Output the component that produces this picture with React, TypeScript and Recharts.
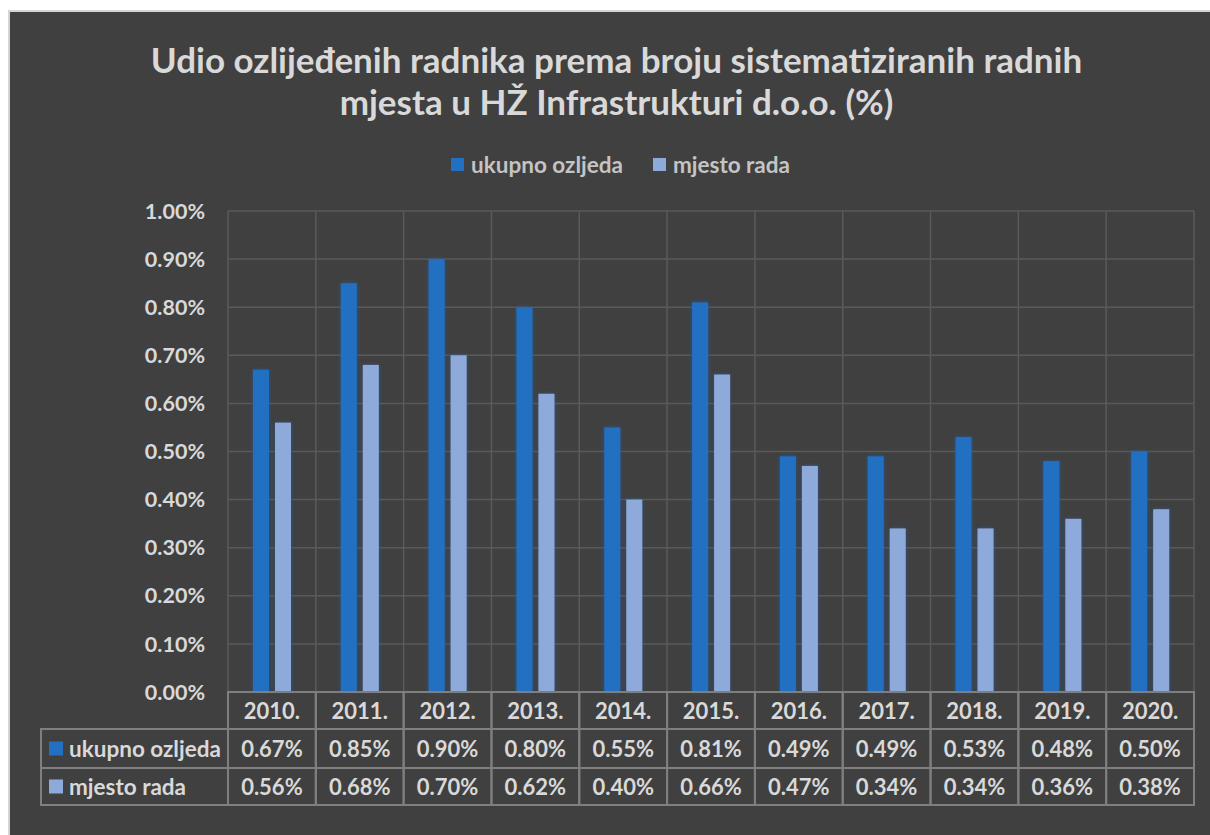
import React from 'react';
import { BarChart, Bar, XAxis, YAxis, CartesianGrid, Legend } from 'recharts';

const years = ['2010.', '2011.', '2012.', '2013.', '2014.', '2015.', '2016.', '2017.', '2018.', '2019.', '2020.'];
const ukupnoOzljeda = [0.67, 0.85, 0.9, 0.8, 0.55, 0.81, 0.49, 0.49, 0.53, 0.48, 0.5];
const mjestoRada = [0.56, 0.68, 0.7, 0.62, 0.4, 0.66, 0.47, 0.34, 0.34, 0.36, 0.38];
const yTicks = [0, 0.1, 0.2, 0.3, 0.4, 0.5, 0.6, 0.7, 0.8, 0.9, 1.0];

const seriesNames = ['ukupno ozljeda', 'mjesto rada'];
const seriesColors = ['#2170C1', '#8EAADB'];

const W = 1202;
const H = 825;
const FONT = 'Lato, "Noto Sans", sans-serif';
const TEXT = '#d9d9d9';
const TABLE_LINE = '#7f7f7f';

// row heights of the data table under the plot
const ROWS = [37, 39, 37];
const LABEL_COL = 187;

const data = years.map((year, i) => ({
  year,
  ukupno: ukupnoOzljeda[i],
  mjesto: mjestoRada[i],
}));

const fmt = (v: number) => v.toFixed(2) + '%';

const TableTick = (props: any) => {
  const { x, y, payload, band } = props;
  const i = payload.index;
  const left = x - band / 2;
  const r0 = y;
  const r1 = r0 + ROWS[0];
  const r2 = r1 + ROWS[1];
  const r3 = r2 + ROWS[2];
  const rowVals = [ukupnoOzljeda, mjestoRada];
  const textStyle = { fontFamily: FONT, fontWeight: 700, fontSize: 22, fill: TEXT };
  const labelStyle = { ...textStyle, fontSize: 22.5 };

  return (
    <g>
      <rect x={left} y={r0} width={band} height={r3 - r0} fill="none" stroke={TABLE_LINE} strokeWidth={2} />
      <line x1={left} x2={left + band} y1={r1} y2={r1} stroke={TABLE_LINE} strokeWidth={2} />
      <line x1={left} x2={left + band} y1={r2} y2={r2} stroke={TABLE_LINE} strokeWidth={2} />
      <text x={x} y={(r0 + r1) / 2} textAnchor="middle" dominantBaseline="central" style={textStyle}>
        {payload.value}
      </text>
      {rowVals.map((vals, k) => (
        <text
          key={k}
          x={x}
          y={k === 0 ? (r1 + r2) / 2 : (r2 + r3) / 2}
          textAnchor="middle"
          dominantBaseline="central"
          style={textStyle}
        >
          {fmt(vals[i])}
        </text>
      ))}
      {i === 0 && (
        <g>
          <rect x={left - LABEL_COL} y={r1} width={LABEL_COL} height={r3 - r1} fill="none" stroke={TABLE_LINE} strokeWidth={2} />
          <line x1={left - LABEL_COL} x2={left} y1={r2} y2={r2} stroke={TABLE_LINE} strokeWidth={2} />
          {seriesNames.map((name, k) => {
            const cy = k === 0 ? (r1 + r2) / 2 : (r2 + r3) / 2;
            return (
              <g key={name}>
                <rect x={left - LABEL_COL + 8} y={cy - 7} width={14} height={14} fill={seriesColors[k]} />
                <text x={left - LABEL_COL + 28} y={cy} dominantBaseline="central" style={labelStyle}>
                  {name}
                </text>
              </g>
            );
          })}
        </g>
      )}
    </g>
  );
};

const GlowBar = (props: any) => {
  const { x, y, width, height, fill } = props;
  if (!height || height <= 0) return null;
  return <rect x={x} y={y} width={width} height={height} fill={fill} filter="url(#barGlow)" />;
};

const LegendContent = () => (
  <div
    style={{
      display: 'flex',
      justifyContent: 'center',
      alignItems: 'center',
      paddingLeft: 23,
      height: 26,
      fontFamily: FONT,
      fontWeight: 700,
      fontSize: 22.5,
      color: '#c4c4c4',
    }}
  >
    {seriesNames.map((name, k) => (
      <div key={name} style={{ display: 'flex', alignItems: 'center', marginRight: k === 0 ? 30 : 0 }}>
        <span style={{ width: 13, height: 13, background: seriesColors[k], display: 'inline-block', marginRight: 7 }} />
        <span>{name}</span>
      </div>
    ))}
  </div>
);

export default function App() {
  const margin = { top: 201, right: 16, left: 0, bottom: 30 };
  const plotW = W - 220 - margin.right;
  const band = plotW / years.length;

  return (
    <div
      style={{
        position: 'absolute',
        left: 8,
        top: 10,
        width: W,
        height: H,
        background: '#404040',
        boxShadow: 'inset 2px 2px 0 #d4d4d4',
      }}
    >
      <div
        style={{
          position: 'absolute',
          left: 15,
          right: 0,
          top: 28,
          textAlign: 'center',
          fontFamily: FONT,
          fontWeight: 700,
          fontSize: 35,
          lineHeight: '42px',
          color: TEXT,
        }}
      >
        Udio ozlijeđenih radnika prema broju sistematiziranih radnih
        <br />
        mjesta u HŽ Infrastrukturi d.o.o. (%)
      </div>
      <BarChart width={W} height={H} data={data} margin={margin} barSize={16} barGap={6}>
        <defs>
          <filter id="barGlow" x="-60%" y="-10%" width="220%" height="120%">
            <feDropShadow dx="0" dy="0" stdDeviation="2.2" floodColor="#2a5590" floodOpacity="0.85" />
          </filter>
        </defs>
        <CartesianGrid
          stroke="#5a5a5a"
          strokeWidth={1.5}
          verticalCoordinatesGenerator={({ offset }: any) =>
            years.map((_, i) => offset.left + (i * offset.width) / years.length).concat(offset.left + offset.width)
          }
        />
        <XAxis
          dataKey="year"
          axisLine={false}
          tickLine={false}
          tickSize={0}
          tickMargin={0}
          height={113}
          interval={0}
          tick={<TableTick band={band} />}
        />
        <YAxis
          width={220}
          domain={[0, 1]}
          ticks={yTicks}
          axisLine={false}
          tickLine={false}
          tickMargin={17}
          tickFormatter={fmt}
          tick={{ fill: TEXT, fontFamily: FONT, fontWeight: 700, fontSize: 21.5 }}
        />
        <Legend
          verticalAlign="middle"
          layout="horizontal"
          align="center"
          wrapperStyle={{ top: 141, left: 0, width: W, height: 26 }}
          content={() => <LegendContent />}
        />
        <Bar dataKey="ukupno" name={seriesNames[0]} fill={seriesColors[0]} shape={GlowBar} isAnimationActive={false} />
        <Bar dataKey="mjesto" name={seriesNames[1]} fill={seriesColors[1]} shape={GlowBar} isAnimationActive={false} />
      </BarChart>
    </div>
  );
}
